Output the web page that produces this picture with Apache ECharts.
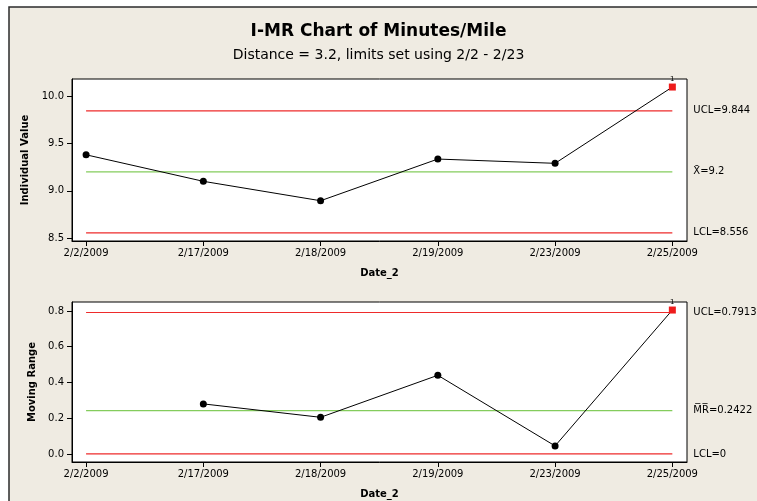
<!DOCTYPE html>
<html><head><meta charset="utf-8">
<script src="https://cdn.jsdelivr.net/npm/echarts@6/dist/echarts.min.js"></script>
<style>html,body{margin:0;padding:0;background:#fff;}#c{width:757px;height:501px;}</style>
</head><body><div id="c"></div>
<script>
const dates = ['2/2/2009','2/17/2009','2/18/2009','2/19/2009','2/23/2009','2/25/2009'];
const indivValues = [9.38, 9.10, 8.895, 9.335, 9.29, 10.095];
const movingRange = [null, 0.28, 0.205, 0.44, 0.045, 0.805];
const indivLimits = [9.844, 9.2, 8.556];   // UCL, center, LCL
const mrLimits = [0.7913, 0.2422, 0];
const indivTicks = [8.5, 9.0, 9.5, 10.0];
const mrTicks = [0.0, 0.2, 0.4, 0.6, 0.8];
const indivFlags = [5];
const mrFlags = [5];

const FONT = 'DejaVu Sans';
const RED = '#ee2b2b', GREEN = '#84cc5c';
const idx = dates.map((d, i) => i);

function pts(vals, flags) {
  return vals.map((v, i) => {
    if (v === null) return null;
    if (flags.indexOf(i) >= 0) {
      return { value: [i, v], symbol: 'rect', symbolSize: 7, itemStyle: { color: '#ee1c1c' },
        label: { show: true, formatter: '1', position: 'top', distance: 1, fontSize: 7, color: '#000', fontFamily: FONT } };
    }
    return [i, v];
  }).filter(p => p !== null);
}
function limitSeries(val, color, label, axis) {
  return {
    type: 'line', xAxisIndex: axis, yAxisIndex: axis, silent: true,
    data: [[0, val], [dates.length - 1, val]], symbol: 'none', z: 1,
    lineStyle: { color: color, width: 1.2 },
    endLabel: { show: true, formatter: label, distance: 21, color: '#000', fontSize: 10, fontFamily: FONT }
  };
}
function xAxis(grid) {
  return {
    type: 'value', gridIndex: grid, min: -0.12, max: 5.125,
    name: 'Date_2', nameLocation: 'middle', nameGap: 27,
    nameTextStyle: { fontWeight: 'bold', fontSize: 10, fontFamily: FONT, color: '#000' },
    axisLine: { show: true, onZero: false, lineStyle: { color: '#000' } },
    axisTick: { show: true, customValues: idx, length: 5, lineStyle: { color: '#000' } },
    axisLabel: { customValues: idx, formatter: v => dates[Math.round(v)], fontSize: 10, fontFamily: FONT, color: '#000', margin: 7 },
    splitLine: { show: false }
  };
}
function yAxis(grid, min, max, ticks, name, gap) {
  return {
    type: 'value', gridIndex: grid, min: min, max: max,
    name: name, nameLocation: 'middle', nameGap: gap, nameRotate: 90,
    nameTextStyle: { fontWeight: 'bold', fontSize: 10, fontFamily: FONT, color: '#000' },
    axisLine: { show: true, onZero: false, lineStyle: { color: '#000' } },
    axisTick: { show: true, customValues: ticks, length: 5, lineStyle: { color: '#000' } },
    axisLabel: { customValues: ticks, formatter: v => v.toFixed(1), fontSize: 10, fontFamily: FONT, color: '#000', margin: 8 },
    splitLine: { show: false }
  };
}

const chart = echarts.init(document.getElementById('c'), null, { renderer: 'canvas' });
chart.setOption({
  backgroundColor: '#fff',
  animation: false,
  graphic: [
    { type: 'rect', z: -10, shape: { x: 9, y: 7, width: 800, height: 600 },
      style: { fill: '#efebe2', stroke: '#2b2b2b', lineWidth: 1.5 } }
  ],
  title: [
    { text: 'I-MR Chart of Minutes/Mile', left: 'center', top: 18,
      textStyle: { fontFamily: FONT, fontWeight: 'bold', fontSize: 17, color: '#000' } },
    { text: 'Distance = 3.2, limits set using 2/2 - 2/23', left: 'center', top: 43,
      textStyle: { fontFamily: FONT, fontWeight: 'normal', fontSize: 14, color: '#000' } }
  ],
  grid: [
    { left: 72, top: 79, width: 615, height: 162, show: true, backgroundColor: '#fff', borderColor: '#000', borderWidth: 1 },
    { left: 72, top: 302, width: 615, height: 160, show: true, backgroundColor: '#fff', borderColor: '#000', borderWidth: 1 }
  ],
  xAxis: [xAxis(0), xAxis(1)],
  yAxis: [
    yAxis(0, 8.47, 10.18, indivTicks, 'Individual Value', 37),
    yAxis(1, -0.045, 0.85, mrTicks, 'Moving Range', 34)
  ],
  series: [
    limitSeries(indivLimits[0], RED, 'UCL=' + indivLimits[0], 0),
    limitSeries(indivLimits[1], GREEN, 'X\u0304=' + indivLimits[1], 0),
    limitSeries(indivLimits[2], RED, 'LCL=' + indivLimits[2], 0),
    limitSeries(mrLimits[0], RED, 'UCL=' + mrLimits[0], 1),
    limitSeries(mrLimits[1], GREEN, 'M\u0305R\u0305=' + mrLimits[1], 1),
    limitSeries(mrLimits[2], RED, 'LCL=' + mrLimits[2], 1),
    { type: 'line', xAxisIndex: 0, yAxisIndex: 0, data: pts(indivValues, indivFlags), z: 5,
      symbol: 'circle', symbolSize: 7, itemStyle: { color: '#000' }, lineStyle: { color: '#000', width: 1 } },
    { type: 'line', xAxisIndex: 1, yAxisIndex: 1, data: pts(movingRange, mrFlags), z: 5,
      symbol: 'circle', symbolSize: 7, itemStyle: { color: '#000' }, lineStyle: { color: '#000', width: 1 } }
  ]
});
</script></body></html>
